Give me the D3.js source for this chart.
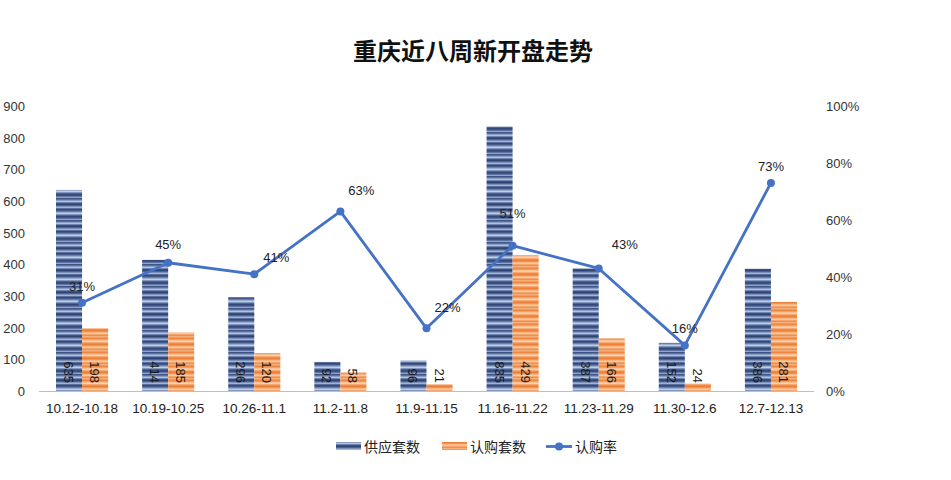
<!DOCTYPE html>
<html><head><meta charset="utf-8">
<script src="https://cdn.jsdelivr.net/npm/d3@7/dist/d3.min.js"></script>
<style>body{margin:0;background:#fff;}svg{display:block;font-family:"Noto Sans CJK SC","DejaVu Sans",sans-serif;}</style>
</head><body><svg id="c" width="951" height="480"></svg>
<script>
const categories = ["10.12-10.18","10.19-10.25","10.26-11.1","11.2-11.8","11.9-11.15","11.16-11.22","11.23-11.29","11.30-12.6","12.7-12.13"];
const supply = [635,414,296,92,96,835,387,152,386];
const subscribed = [198,185,120,58,21,429,166,24,281];
const rate = [0.31,0.45,0.41,0.63,0.22,0.51,0.43,0.16,0.73];
const leftTicks = [0,100,200,300,400,500,600,700,800,900];
const rightTicks = [0,0.2,0.4,0.6,0.8,1.0];
// label placement relative to each point (layout only)
const rateLabelDx = [0,0,22,21,21,0,26,0,0];
const rateLabelDy = [-17,-19,-17,-21,-21,-33,-24,-17,-17];

const svg = d3.select("#c");
const m = {l:39, r:814, t:105, b:391};
const x = d3.scaleBand().domain(categories).range([m.l, m.r]).paddingInner(0.395).paddingOuter(0.1975);
const y = d3.scaleLinear().domain([0,900]).range([m.b, m.t+1]);
const y2 = d3.scaleLinear().domain([0,1]).range([m.b, m.t+1]);
const bw = x.bandwidth()/2;
const numFont = "'Liberation Sans',Arial,sans-serif";

// stripe patterns
const defs = svg.append("defs");
function stripes(id, cols){
  const p = defs.append("pattern").attr("id", id).attr("patternUnits","userSpaceOnUse")
    .attr("width", 10).attr("height", cols.length);
  cols.forEach((c,i)=>{ p.append("rect").attr("y",i).attr("width",10).attr("height",1).attr("fill",c); });
}
stripes("pb",["#3e5586","#5a71a0","#8a9dc3","#b3c1dc","#6f84b0","#3a5080","#2f4574","#4c6393","#7d91b9","#a3b3d3","#5a71a0","#34497a","#44598a","#6a80ab","#9aaccc","#c1cde4","#8196be","#4d6494","#34497a","#3e5586","#5d74a3","#92a5c9"]);
stripes("po",["#f6b07c","#f29a5c","#ee8741","#f39e63","#f8c096","#fad0b0","#f5aa73","#ef8c48","#ed7f36","#f19452","#f6b585","#f9c8a3","#f4a56c","#f08e4a"]);

svg.append("text").attr("x",473).attr("y",60).attr("text-anchor","middle")
  .attr("font-size",24).attr("font-weight","bold").attr("fill","#111").text("重庆近八周新开盘走势");

// left axis labels
svg.append("g").selectAll("text").data(leftTicks).join("text")
  .attr("x",25).attr("y",d=>y(d)+5).attr("text-anchor","end").attr("font-size",13)
  .attr("font-family",numFont).attr("fill","#333").text(d=>d);
// right axis labels
svg.append("g").selectAll("text").data(rightTicks).join("text")
  .attr("x",826).attr("y",d=>y2(d)+5).attr("text-anchor","start").attr("font-size",13)
  .attr("font-family",numFont).attr("fill","#333").text(d=>d3.format(".0%")(d));

// bars
svg.append("g").selectAll("rect").data(categories).join("rect")
  .attr("x",d=>x(d)).attr("width",bw).attr("y",(d,i)=>y(supply[i])).attr("height",(d,i)=>m.b-y(supply[i]))
  .attr("fill","url(#pb)");
svg.append("g").selectAll("rect").data(categories).join("rect")
  .attr("x",d=>x(d)+bw).attr("width",bw).attr("y",(d,i)=>y(subscribed[i])).attr("height",(d,i)=>m.b-y(subscribed[i]))
  .attr("fill","url(#po)");

// baseline
svg.append("line").attr("x1",m.l).attr("x2",m.r).attr("y1",m.b+0.5).attr("y2",m.b+0.5).attr("stroke","#bfbfbf").attr("stroke-width",1);

// bar value labels (rotated)
function barLabels(vals, off){
  svg.append("g").selectAll("text").data(categories).join("text")
    .attr("transform",(d)=>`translate(${x(d)+off+bw/2-5},${m.b-8}) rotate(90)`)
    .attr("text-anchor","end").attr("font-size",13)
    .attr("font-family",numFont).attr("fill","#1a1a1a")
    .text((d,i)=>vals[i]);
}
barLabels(supply,0);
barLabels(subscribed,bw);

// line
const cx = d=>x(d)+x.bandwidth()/2;
svg.append("path").datum(categories)
  .attr("d", d3.line().x(d=>cx(d)).y((d,i)=>y2(rate[i])))
  .attr("fill","none").attr("stroke","#4472c4").attr("stroke-width",2.8).attr("stroke-linejoin","round");
svg.append("g").selectAll("circle").data(categories).join("circle")
  .attr("cx",cx).attr("cy",(d,i)=>y2(rate[i])).attr("r",4).attr("fill","#4472c4");
svg.append("g").selectAll("text").data(categories).join("text")
  .attr("x",(d,i)=>cx(d)+rateLabelDx[i])
  .attr("y",(d,i)=>y2(rate[i])+rateLabelDy[i]+5)
  .attr("text-anchor","middle").attr("font-size",13)
  .attr("font-family",numFont).attr("fill","#222")
  .text((d,i)=>d3.format(".0%")(rate[i]));

// category labels
svg.append("g").selectAll("text").data(categories).join("text")
  .attr("x",cx).attr("y",413).attr("text-anchor","middle").attr("font-size",13.5)
  .attr("font-family",numFont).attr("fill","#222").text(d=>d);

// legend
const lg = svg.append("g").attr("font-size",14).attr("fill","#222");
lg.append("rect").attr("x",336).attr("y",442).attr("width",25).attr("height",8).attr("fill","url(#pb)");
lg.append("text").attr("x",364).attr("y",452).text("供应套数");
lg.append("rect").attr("x",442).attr("y",442).attr("width",25).attr("height",8).attr("fill","url(#po)");
lg.append("text").attr("x",470).attr("y",452).text("认购套数");
lg.append("line").attr("x1",546).attr("x2",572).attr("y1",446.5).attr("y2",446.5).attr("stroke","#4472c4").attr("stroke-width",2.8);
lg.append("circle").attr("cx",559).attr("cy",446.5).attr("r",4).attr("fill","#4472c4");
lg.append("text").attr("x",575).attr("y",452).text("认购率");
</script></body></html>
